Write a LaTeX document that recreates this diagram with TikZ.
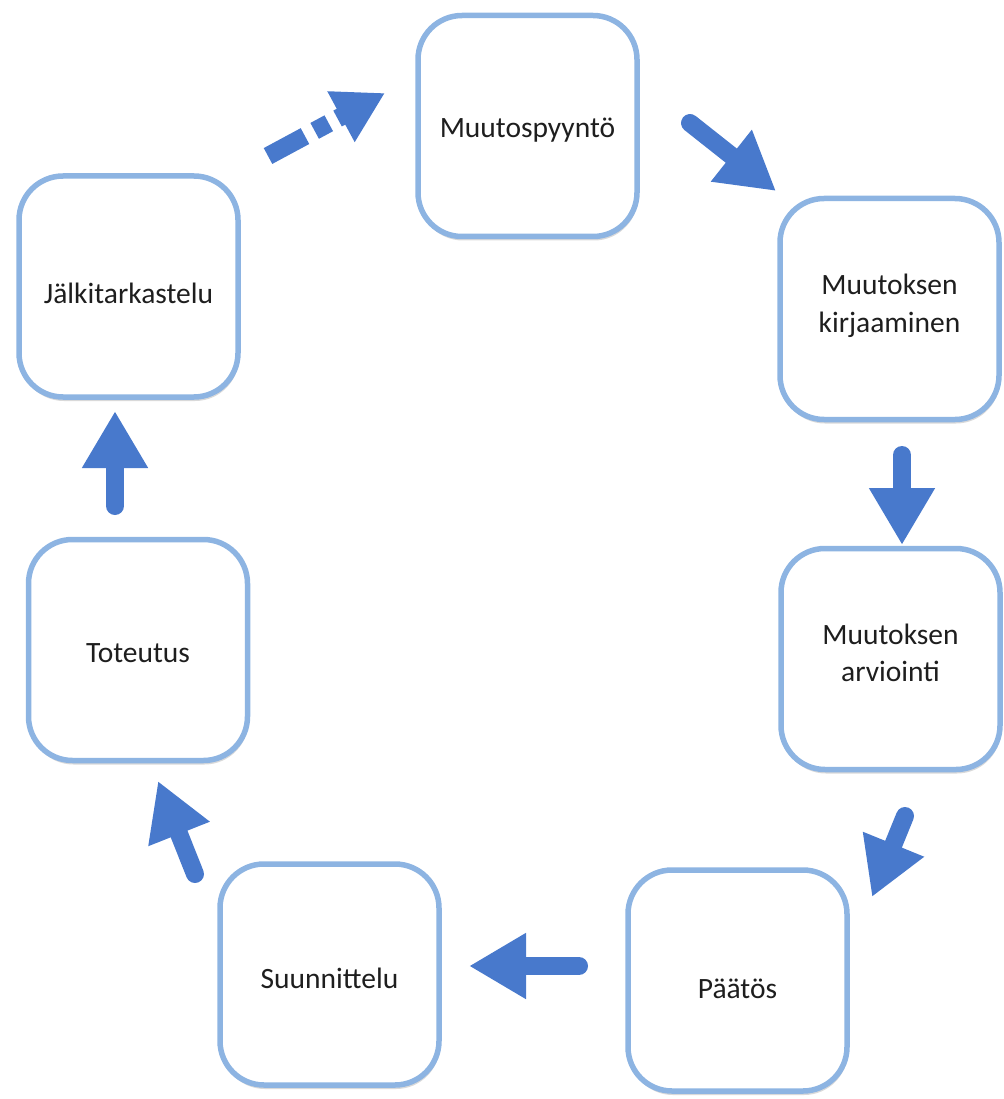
\documentclass[tikz,border=0pt]{standalone}
\usepackage{fontspec}
\setmainfont{Carlito}
\usetikzlibrary{arrows.meta,shadows}
\definecolor{boxline}{RGB}{141,180,226}
\definecolor{arrowblue}{RGB}{72,121,204}
\definecolor{txt}{RGB}{30,30,30}
\tikzset{
  stage/.style={draw=boxline, line width=5.5pt, fill=white, rounded corners=44pt,
    minimum width=219pt, minimum height=221pt, inner sep=0pt,
    drop shadow={opacity=0.15, shadow xshift=1pt, shadow yshift=-4pt, fill=black}},
  stagetext/.style={align=center, text=txt, inner sep=0pt,
    font=\fontsize{29.5}{37.5}\selectfont},
  flow/.style={draw=arrowblue, line width=18pt, line cap=round,
    -{Triangle[length=57pt,width=62pt]}},
  dflow/.style={draw=arrowblue, line width=18pt, line cap=butt,
    dash pattern=on 42pt off 11pt on 16pt off 10pt,
    -{Triangle[length=50pt,width=54pt]}}
}
\begin{document}
\begin{tikzpicture}[x=1pt,y=-1pt]
\useasboundingbox (0,0) rectangle (1003,1099);
\node[stage] (s1) at (527.5,126) {};
\node[stage] (s2) at (889.5,309) {};
\node[stage] (s3) at (890.5,659) {};
\node[stage] (s4) at (737.5,980.5) {};
\node[stage] (s5) at (329.5,974.5) {};
\node[stage] (s6) at (138,650) {};
\node[stage] (s7) at (128.5,286.5) {};
\node[stagetext] (t1) at ([yshift=-4pt]s1.center) {Muutospyyntö};
\node[stagetext] (t2) at ([yshift=3pt]s2.center) {Muutoksen\\kirjaaminen};
\node[stagetext] (t3) at ([yshift=6pt]s3.center) {Muutoksen\\arviointi};
\node[stagetext] (t4) at ([yshift=-8pt]s4.center) {Päätös};
\node[stagetext] (t5) at ([yshift=-4pt]s5.center) {Suunnittelu};
\node[stagetext] (t6) at ([yshift=-3pt]s6.center) {Toteutus};
\node[stagetext] (t7) at ([yshift=-7pt]s7.center) {Jälkitarkastelu};
% arrow end points
\coordinate (a1s) at (268,156);  \coordinate (a1e) at (385,93);
\coordinate (a2s) at (690,123);  \coordinate (a2e) at (776,191);
\coordinate (a3s) at (902,455);  \coordinate (a3e) at (902,545);
\coordinate (a4s) at (905,816);  \coordinate (a4e) at (872,897);
\coordinate (a5s) at (579,966);  \coordinate (a5e) at (469,966);
\coordinate (a6s) at (195,874);  \coordinate (a6e) at (158,781);
\coordinate (a7s) at (115,506);  \coordinate (a7e) at (115,411);
\draw[dflow] (a1s) -- (a1e);
\draw[flow] (a2s) -- (a2e);
\draw[flow] (a3s) -- (a3e);
\draw[flow] (a4s) -- (a4e);
\draw[flow] (a5s) -- (a5e);
\draw[flow] (a6s) -- (a6e);
\draw[flow] (a7s) -- (a7e);
\end{tikzpicture}
\end{document}
